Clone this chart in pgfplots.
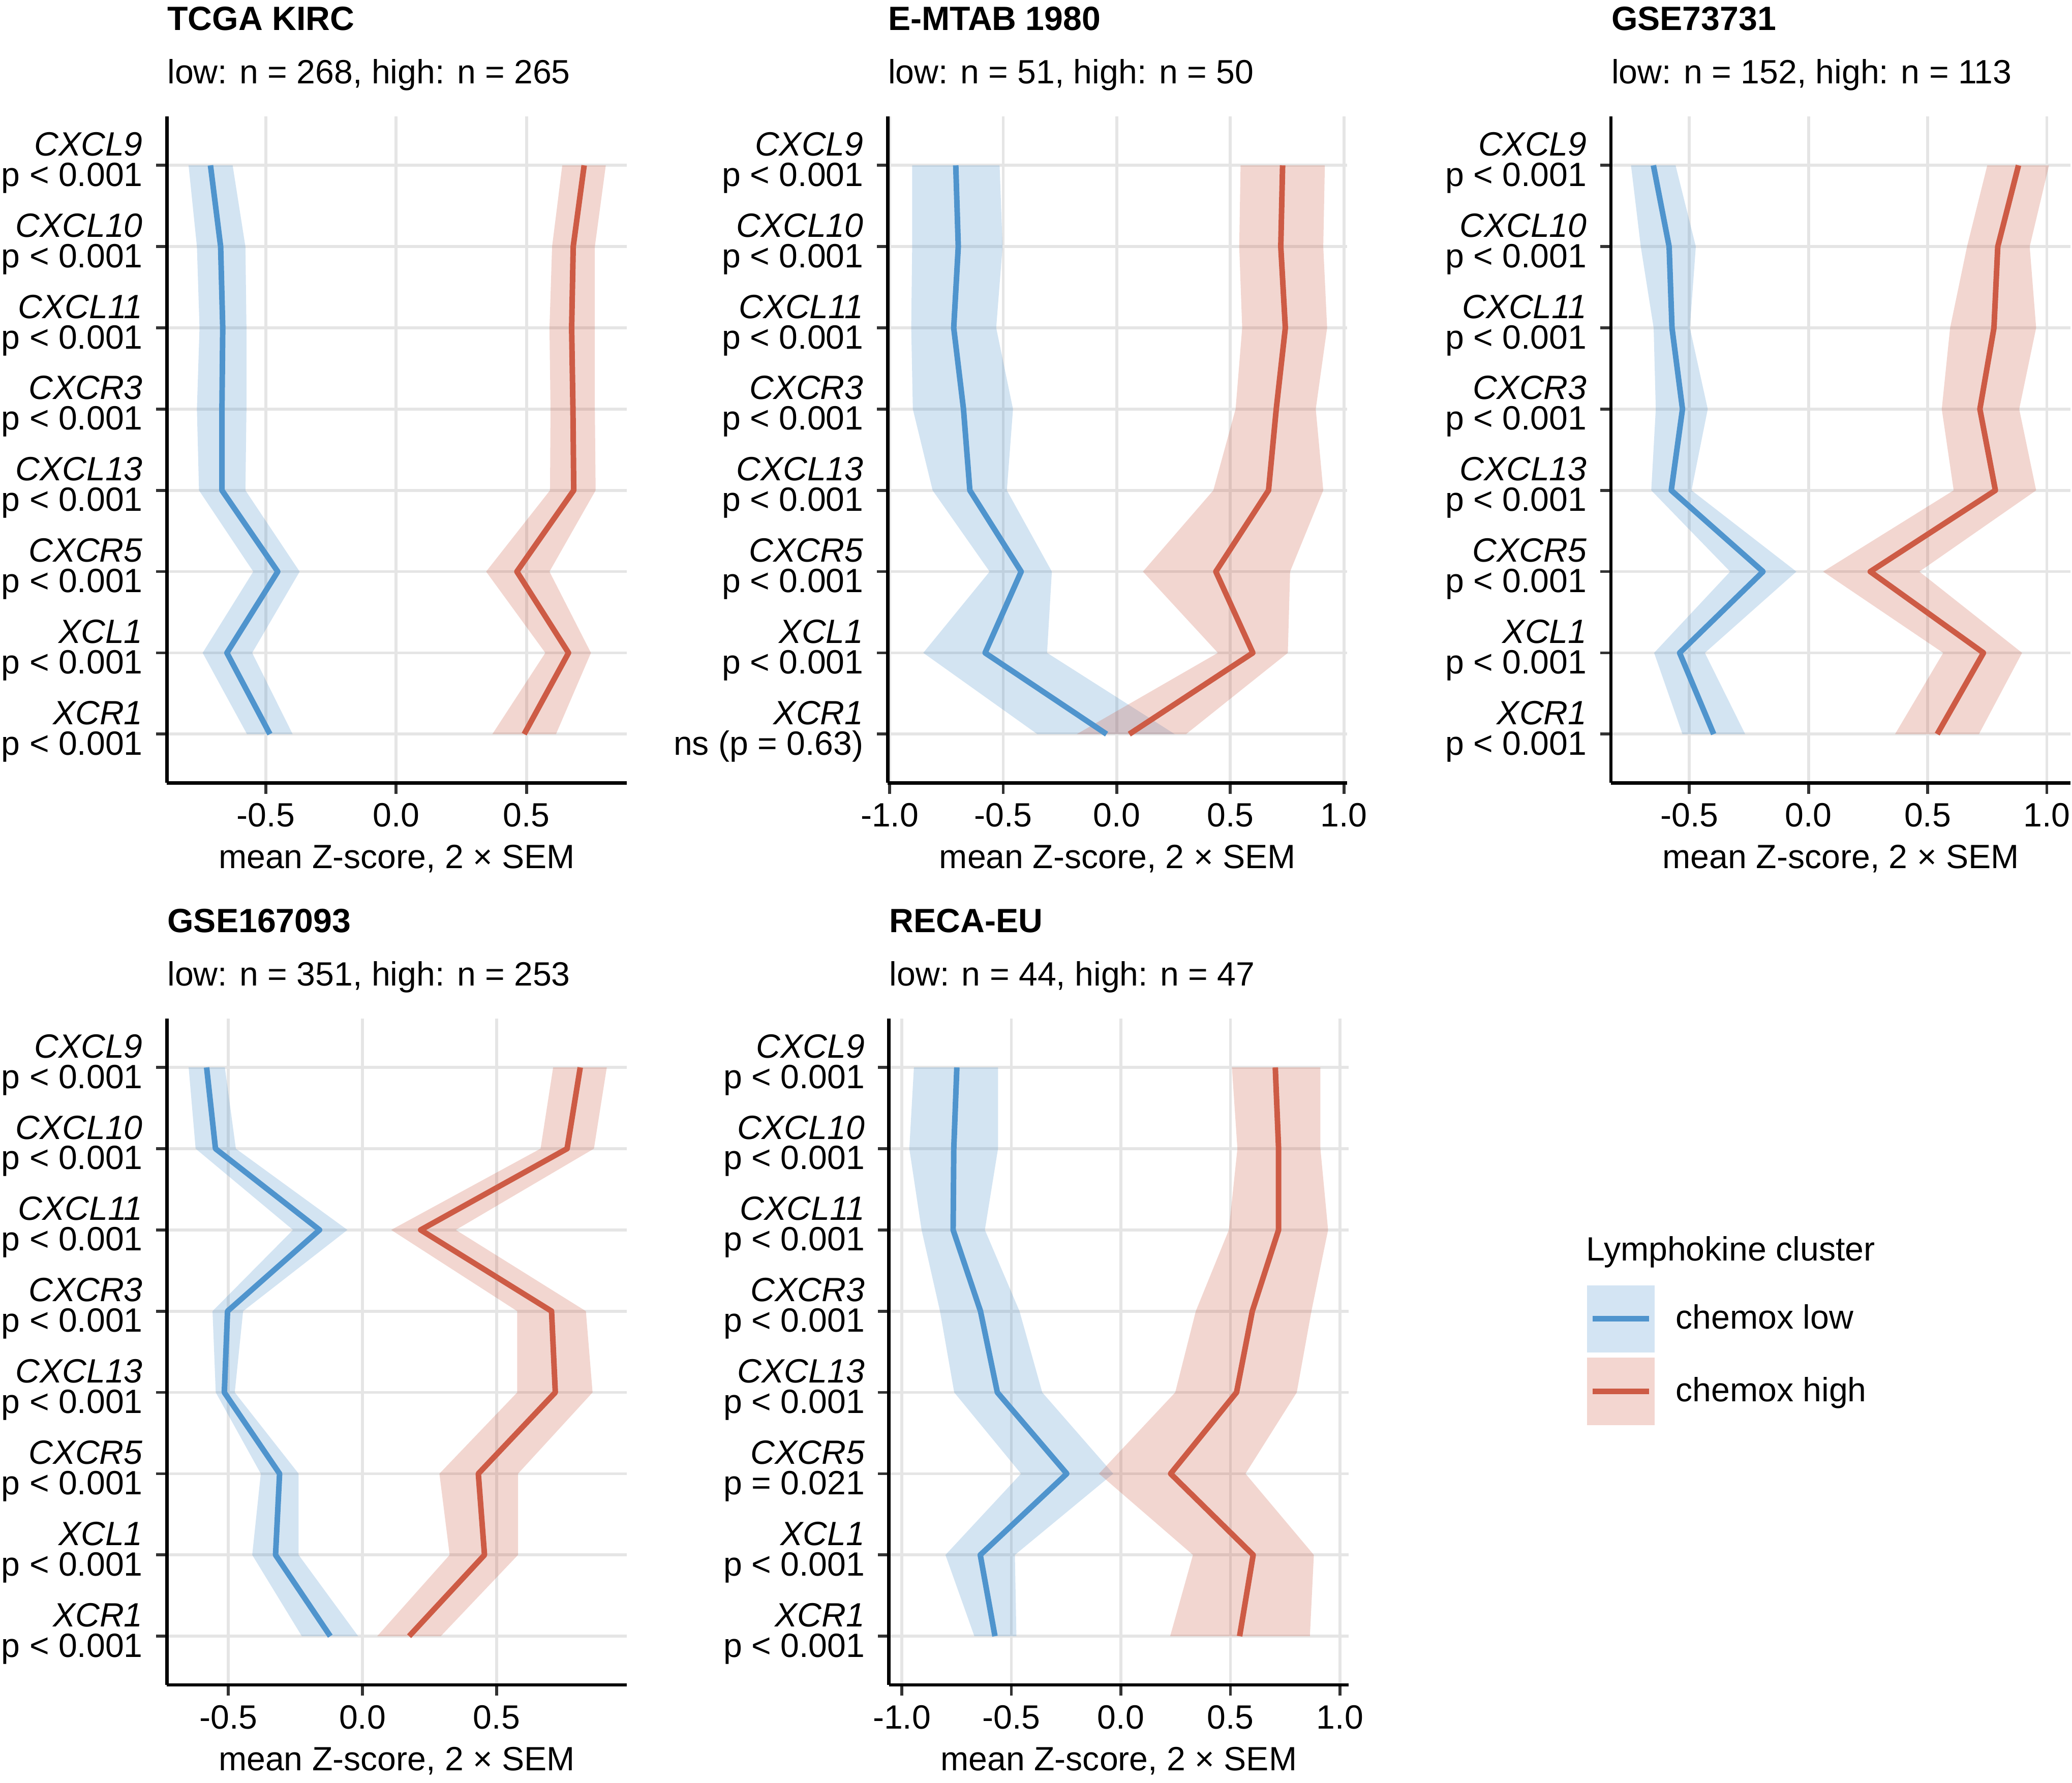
\documentclass[border=0pt]{standalone}
\usepackage{fontspec}
\setmainfont{Liberation Sans}
\usepackage{pgfplots}
\pgfplotsset{compat=1.18}
\usepackage{pgfplotstable}

\definecolor{cblue}{RGB}{79,148,205}
\definecolor{cred}{RGB}{205,91,69}
\definecolor{bblue}{RGB}{211,228,243}
\definecolor{bred}{RGB}{243,214,208}
\definecolor{gridc}{RGB}{229,229,229}
\definecolor{tickc}{RGB}{51,51,51}
\newcommand{\fs}{\fontsize{12.7}{11.5}\selectfont}

% y m lo hi  (y: 1=CXCL9 ... 8=XCR1)
\pgfplotstableread{
y m lo hi
1 -0.712 -0.796 -0.627
2 -0.673 -0.764 -0.578
3 -0.665 -0.754 -0.574
4 -0.668 -0.764 -0.574
5 -0.668 -0.756 -0.578
6 -0.454 -0.548 -0.370
7 -0.649 -0.742 -0.552
8 -0.484 -0.572 -0.397
}\tAlow
\pgfplotstableread{
y m lo hi
1 0.721 0.637 0.804
2 0.679 0.598 0.762
3 0.673 0.588 0.762
4 0.678 0.592 0.762
5 0.681 0.590 0.765
6 0.463 0.345 0.588
7 0.661 0.572 0.747
8 0.491 0.369 0.613
}\tAhigh
\pgfplotstableread{
y m lo hi
1 -0.709 -0.901 -0.516
2 -0.698 -0.901 -0.503
3 -0.718 -0.905 -0.531
4 -0.675 -0.898 -0.457
5 -0.647 -0.811 -0.484
6 -0.421 -0.560 -0.286
7 -0.580 -0.852 -0.307
8 -0.045 -0.350 0.255
}\tBlow
\pgfplotstableread{
y m lo hi
1 0.730 0.545 0.916
2 0.722 0.539 0.909
3 0.742 0.552 0.926
4 0.702 0.523 0.876
5 0.668 0.425 0.909
6 0.436 0.115 0.763
7 0.599 0.445 0.753
8 0.055 -0.176 0.305
}\tBhigh
\pgfplotstableread{
y m lo hi
1 -0.651 -0.745 -0.558
2 -0.585 -0.704 -0.473
3 -0.573 -0.650 -0.498
4 -0.529 -0.641 -0.423
5 -0.576 -0.660 -0.491
6 -0.191 -0.329 -0.051
7 -0.541 -0.648 -0.435
8 -0.398 -0.529 -0.266
}\tClow
\pgfplotstableread{
y m lo hi
1 0.881 0.750 1.009
2 0.794 0.665 0.928
3 0.778 0.594 0.955
4 0.719 0.559 0.884
5 0.784 0.609 0.955
6 0.259 0.061 0.465
7 0.734 0.565 0.896
8 0.540 0.363 0.715
}\tChigh
\pgfplotstableread{
y m lo hi
1 -0.581 -0.648 -0.513
2 -0.548 -0.622 -0.472
3 -0.160 -0.259 -0.056
4 -0.503 -0.559 -0.445
5 -0.515 -0.547 -0.476
6 -0.309 -0.379 -0.238
7 -0.324 -0.411 -0.238
8 -0.120 -0.226 -0.016
}\tDlow
\pgfplotstableread{
y m lo hi
1 0.812 0.711 0.911
2 0.763 0.664 0.863
3 0.217 0.107 0.348
4 0.705 0.577 0.833
5 0.719 0.577 0.858
6 0.432 0.287 0.580
7 0.455 0.325 0.580
8 0.174 0.055 0.292
}\tDhigh
\pgfplotstableread{
y m lo hi
1 -0.749 -0.945 -0.561
2 -0.763 -0.966 -0.561
3 -0.766 -0.910 -0.621
4 -0.641 -0.826 -0.463
5 -0.564 -0.761 -0.359
6 -0.247 -0.456 -0.035
7 -0.642 -0.801 -0.484
8 -0.575 -0.669 -0.477
}\tElow
\pgfplotstableread{
y m lo hi
1 0.705 0.507 0.911
2 0.720 0.532 0.911
3 0.720 0.493 0.946
4 0.600 0.342 0.870
5 0.528 0.248 0.803
6 0.227 -0.100 0.569
7 0.604 0.329 0.881
8 0.542 0.225 0.863
}\tEhigh

\pgfplotsset{panel/.style={
  scale only axis, width=173.5pt, height=251.5pt,
  anchor=north west,
  axis x line*=bottom, axis y line*=left,
  axis line style={black, line width=1.3pt},
  ymin=0.4, ymax=8.6, y dir=reverse, ytick={1,2,...,8},
  xmajorgrids, ymajorgrids,
  major grid style={draw=gridc, line width=1.1pt},
  tick align=outside, major tick length=4.1pt,
  tick style={draw=tickc, line width=1.1pt},
  ticklabel style={font=\fs, text=black},
  yticklabel style={align=right, yshift=1pt, xshift=-1.5pt},
  xlabel={mean Z-score, 2 × SEM},
  label style={font=\fs},
  clip mode=individual,
  /pgf/number format/assume math mode=true,
}}

% ribbon polygon: lo column top->bottom, then hi column bottom->top
\newcommand{\band}[2]{%
  \gdef\pts{}%
  \foreach \i in {0,...,7}{%
    \pgfplotstablegetelem{\i}{lo}\of{#1}\let\vv\pgfplotsretval
    \pgfplotstablegetelem{\i}{y}\of{#1}\let\yy\pgfplotsretval
    \xdef\pts{\pts (\vv,\yy)}%
  }%
  \foreach \i in {7,6,...,0}{%
    \pgfplotstablegetelem{\i}{hi}\of{#1}\let\vv\pgfplotsretval
    \pgfplotstablegetelem{\i}{y}\of{#1}\let\yy\pgfplotsretval
    \xdef\pts{\pts (\vv,\yy)}%
  }%
  \edef\temp{\noexpand\addplot[fill=#2, fill opacity=0.25, draw=none, forget plot] coordinates {\pts};}%
  \temp
}
\newcommand{\panel}[2]{%
  \band{#1}{cblue}
  \band{#2}{cred}
  \addplot[cblue, line width=2.1pt, line join=round, forget plot] table[x=m, y=y]{#1};
  \addplot[cred, line width=2.1pt, line join=round, forget plot] table[x=m, y=y]{#2};
}
\newcommand{\ptitle}[2]{%
  \node[anchor=base west, inner sep=0pt, font=\fs\bfseries, yshift=32.5pt] at (axis description cs:0,1) {#1};
  \node[anchor=base west, inner sep=0pt, font=\fs, yshift=12.5pt] at (axis description cs:0,1) {#2};
}

\begin{document}
\begin{tikzpicture}

% Panel 1
\begin{axis}[panel, at={(63pt,-44pt)},
  xmin=-0.879, xmax=0.884, xtick={-0.5,0,0.5}, xticklabels={-0.5,0.0,0.5},
  yticklabels={{\textit{CXCL9}\\p < 0.001},{\textit{CXCL10}\\p < 0.001},{\textit{CXCL11}\\p < 0.001},{\textit{CXCR3}\\p < 0.001},{\textit{CXCL13}\\p < 0.001},{\textit{CXCR5}\\p < 0.001},{\textit{XCL1}\\p < 0.001},{\textit{XCR1}\\p < 0.001}}]
\panel{\tAlow}{\tAhigh}
\ptitle{TCGA KIRC}{low: n = 268, high: n = 265}
\end{axis}

% Panel 2
\begin{axis}[panel, at={(335pt,-44pt)},
  xmin=-1.009, xmax=1.015, xtick={-1,-0.5,0,0.5,1}, xticklabels={-1.0,-0.5,0.0,0.5,1.0},
  yticklabels={{\textit{CXCL9}\\p < 0.001},{\textit{CXCL10}\\p < 0.001},{\textit{CXCL11}\\p < 0.001},{\textit{CXCR3}\\p < 0.001},{\textit{CXCL13}\\p < 0.001},{\textit{CXCR5}\\p < 0.001},{\textit{XCL1}\\p < 0.001},{\textit{XCR1}\\ns (p = 0.63)}}]
\panel{\tBlow}{\tBhigh}
\ptitle{E-MTAB 1980}{low: n = 51, high: n = 50}
\end{axis}

% Panel 3
\begin{axis}[panel, at={(608pt,-44pt)},
  xmin=-0.829, xmax=1.10, xtick={-0.5,0,0.5,1}, xticklabels={-0.5,0.0,0.5,1.0},
  yticklabels={{\textit{CXCL9}\\p < 0.001},{\textit{CXCL10}\\p < 0.001},{\textit{CXCL11}\\p < 0.001},{\textit{CXCR3}\\p < 0.001},{\textit{CXCL13}\\p < 0.001},{\textit{CXCR5}\\p < 0.001},{\textit{XCL1}\\p < 0.001},{\textit{XCR1}\\p < 0.001}}]
\panel{\tClow}{\tChigh}
\ptitle{GSE73731}{low: n = 152, high: n = 113}
\end{axis}

% Panel 4
\begin{axis}[panel, at={(63pt,-384.5pt)},
  xmin=-0.729, xmax=0.985, xtick={-0.5,0,0.5}, xticklabels={-0.5,0.0,0.5},
  yticklabels={{\textit{CXCL9}\\p < 0.001},{\textit{CXCL10}\\p < 0.001},{\textit{CXCL11}\\p < 0.001},{\textit{CXCR3}\\p < 0.001},{\textit{CXCL13}\\p < 0.001},{\textit{CXCR5}\\p < 0.001},{\textit{XCL1}\\p < 0.001},{\textit{XCR1}\\p < 0.001}}]
\panel{\tDlow}{\tDhigh}
\ptitle{GSE167093}{low: n = 351, high: n = 253}
\end{axis}

% Panel 5 (with legend)
\begin{axis}[panel, at={(335.5pt,-384.5pt)},
  xmin=-1.059, xmax=1.040, xtick={-1,-0.5,0,0.5,1}, xticklabels={-1.0,-0.5,0.0,0.5,1.0},
  yticklabels={{\textit{CXCL9}\\p < 0.001},{\textit{CXCL10}\\p < 0.001},{\textit{CXCL11}\\p < 0.001},{\textit{CXCR3}\\p < 0.001},{\textit{CXCL13}\\p < 0.001},{\textit{CXCR5}\\p = 0.021},{\textit{XCL1}\\p < 0.001},{\textit{XCR1}\\p < 0.001}},
  legend style={at={(axis description cs:1.519,0.600)}, anchor=north west, draw=none, fill=none, font=\fs, inner sep=0pt, outer sep=0pt, row sep=2pt, column sep=8pt, nodes={inner sep=0pt}},
  legend cell align=left]
\panel{\tElow}{\tEhigh}
\ptitle{RECA-EU}{low: n = 44, high: n = 47}
\addlegendimage{legend image code/.code={\fill[bblue] (0pt,-12.5pt) rectangle (25pt,12.5pt); \draw[cblue, line width=2.1pt] (1.8pt,0pt) -- (23.2pt,0pt);}}
\addlegendentry{chemox low}
\addlegendimage{legend image code/.code={\fill[bred] (0pt,-12.5pt) rectangle (25pt,12.5pt); \draw[cred, line width=2.1pt] (1.8pt,0pt) -- (23.2pt,0pt);}}
\addlegendentry{chemox high}
\node[anchor=west, inner sep=0pt, font=\fs] at (axis description cs:1.516,0.650) {Lymphokine cluster};
\end{axis}

\pgfresetboundingbox
\path[use as bounding box] (0pt,0pt) rectangle (782pt,-673pt);
\end{tikzpicture}
\end{document}
